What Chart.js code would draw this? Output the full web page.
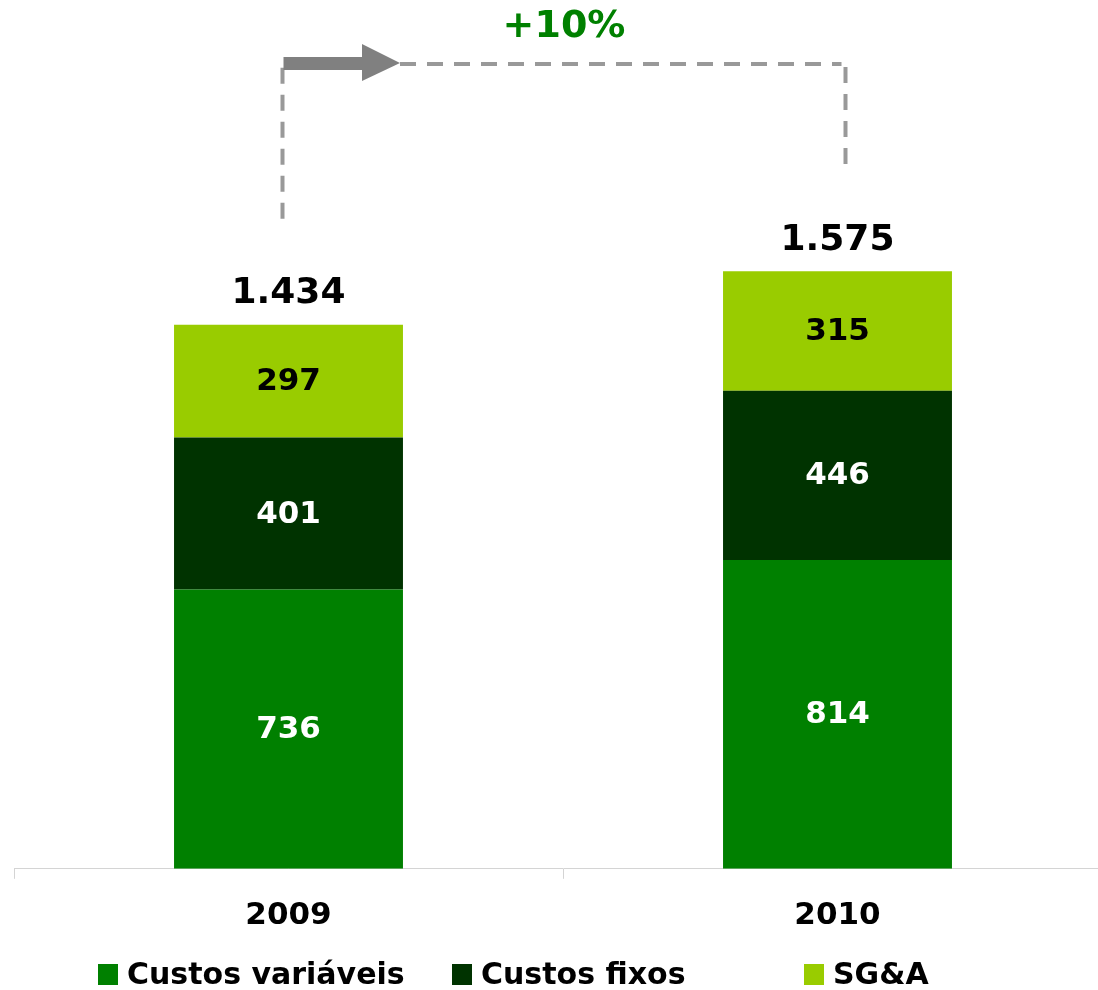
<!DOCTYPE html>
<html>
<head>
<meta charset="utf-8">
<script src="https://cdn.jsdelivr.net/npm/chart.js@4/dist/chart.umd.min.js"></script>
<style>
  html, body { margin:0; padding:0; background:#fff; overflow:hidden; }
  #wrap { position:absolute; left:0; top:0; }
</style>
</head>
<body>
<div id="wrap"><canvas id="custos" width="1120" height="990"></canvas></div>
<script>
// dados (R$ milhões)
const anos = ["2009", "2010"];
const custosVariaveis = [736, 814];
const custosFixos = [401, 446];
const sgaValores = [297, 315];
const nomesSeries = ["Custos variáveis", "Custos fixos", "SG&A"];

const FONT = "'DejaVu Sans', Verdana, sans-serif";
const cores = ["#008000", "#003300", "#99CC00"];
const corTexto = ["#ffffff", "#ffffff", "#000000"];

const totais = anos.map((_, i) => custosVariaveis[i] + custosFixos[i] + sgaValores[i]);
const fmt = n => String(n).replace(/\B(?=(\d{3})+(?!\d))/g, ".");

// rotulos dentro das barras, totais, seta de crescimento e legenda
const rotulos = {
  id: "rotulos",
  afterDatasetsDraw(chart){
    const ctx = chart.ctx;
    ctx.save();
    ctx.textAlign = "center";
    ctx.textBaseline = "middle";

    chart.data.datasets.forEach((ds, di) => {
      const meta = chart.getDatasetMeta(di);
      meta.data.forEach((bar, i) => {
        ctx.font = `bold 31px ${FONT}`;
        ctx.fillStyle = corTexto[di];
        ctx.fillText(String(ds.data[i]), bar.x, (bar.y + bar.base) / 2 + 1);
      });
    });

    const topo = chart.getDatasetMeta(2).data;
    ctx.font = `bold 36px ${FONT}`;
    ctx.fillStyle = "#000";
    topo.forEach((bar, i) => ctx.fillText(fmt(totais[i]), bar.x, bar.y - 31));

    // colchete tracejado
    const xl = topo[0].x - 6, xr = topo[1].x + 8, yt = 64;
    ctx.strokeStyle = "#999999";
    ctx.lineWidth = 4;
    ctx.setLineDash([16, 11]);
    ctx.beginPath();
    ctx.moveTo(xl, topo[0].y - 106); ctx.lineTo(xl, yt + 3);
    ctx.stroke();
    ctx.beginPath();
    ctx.moveTo(400, yt); ctx.lineTo(xr - 4, yt);
    ctx.stroke();
    ctx.beginPath();
    ctx.moveTo(xr, yt + 3); ctx.lineTo(xr, topo[1].y - 105);
    ctx.stroke();
    ctx.setLineDash([]);

    // seta
    ctx.fillStyle = "#808080";
    ctx.fillRect(xl + 1, yt - 7, 362 - xl - 1, 13);
    ctx.beginPath();
    ctx.moveTo(362, yt - 20); ctx.lineTo(400, yt - 1); ctx.lineTo(362, yt + 17);
    ctx.closePath();
    ctx.fill();

    const cresc = Math.round((totais[1] / totais[0] - 1) * 100);
    ctx.font = `bold 38px ${FONT}`;
    ctx.fillStyle = "#008000";
    ctx.fillText(`+${cresc}%`, (xl + xr) / 2, 27);

    // legenda
    const posLeg = [98, 452, 804];
    ctx.textAlign = "left";
    ctx.font = `bold 30px ${FONT}`;
    chart.data.datasets.forEach((ds, di) => {
      ctx.fillStyle = ds.backgroundColor;
      ctx.fillRect(posLeg[di], 964, 20, 21);
      ctx.fillStyle = "#000";
      ctx.fillText(ds.label, posLeg[di] + 29, 976);
    });
    ctx.restore();
  }
};

new Chart(document.getElementById("custos"), {
  type: "bar",
  data: {
    labels: anos,
    datasets: [
      { label: nomesSeries[0], data: custosVariaveis, backgroundColor: cores[0] },
      { label: nomesSeries[1], data: custosFixos, backgroundColor: cores[1] },
      { label: nomesSeries[2], data: sgaValores, backgroundColor: cores[2] }
    ]
  },
  options: {
    responsive: false,
    animation: false,
    devicePixelRatio: 1,
    layout: { padding: { left: 14, right: 8, top: 110, bottom: 36 } },
    datasets: { bar: { categoryPercentage: 1, barPercentage: 0.417, borderWidth: 0 } },
    plugins: { legend: { display: false }, tooltip: { enabled: false } },
    scales: {
      x: {
        stacked: true,
        grid: { drawOnChartArea: false, tickLength: 10, color: "#d4d4d4", lineWidth: 1 },
        border: { color: "#d4d4d4", width: 1 },
        ticks: { color: "#000", padding: 19, font: { family: FONT, size: 31, weight: "bold", lineHeight: 1.2 } }
      },
      y: { stacked: true, display: false, min: 0, max: 2000 }
    }
  },
  plugins: [rotulos]
});
</script>
</body>
</html>
